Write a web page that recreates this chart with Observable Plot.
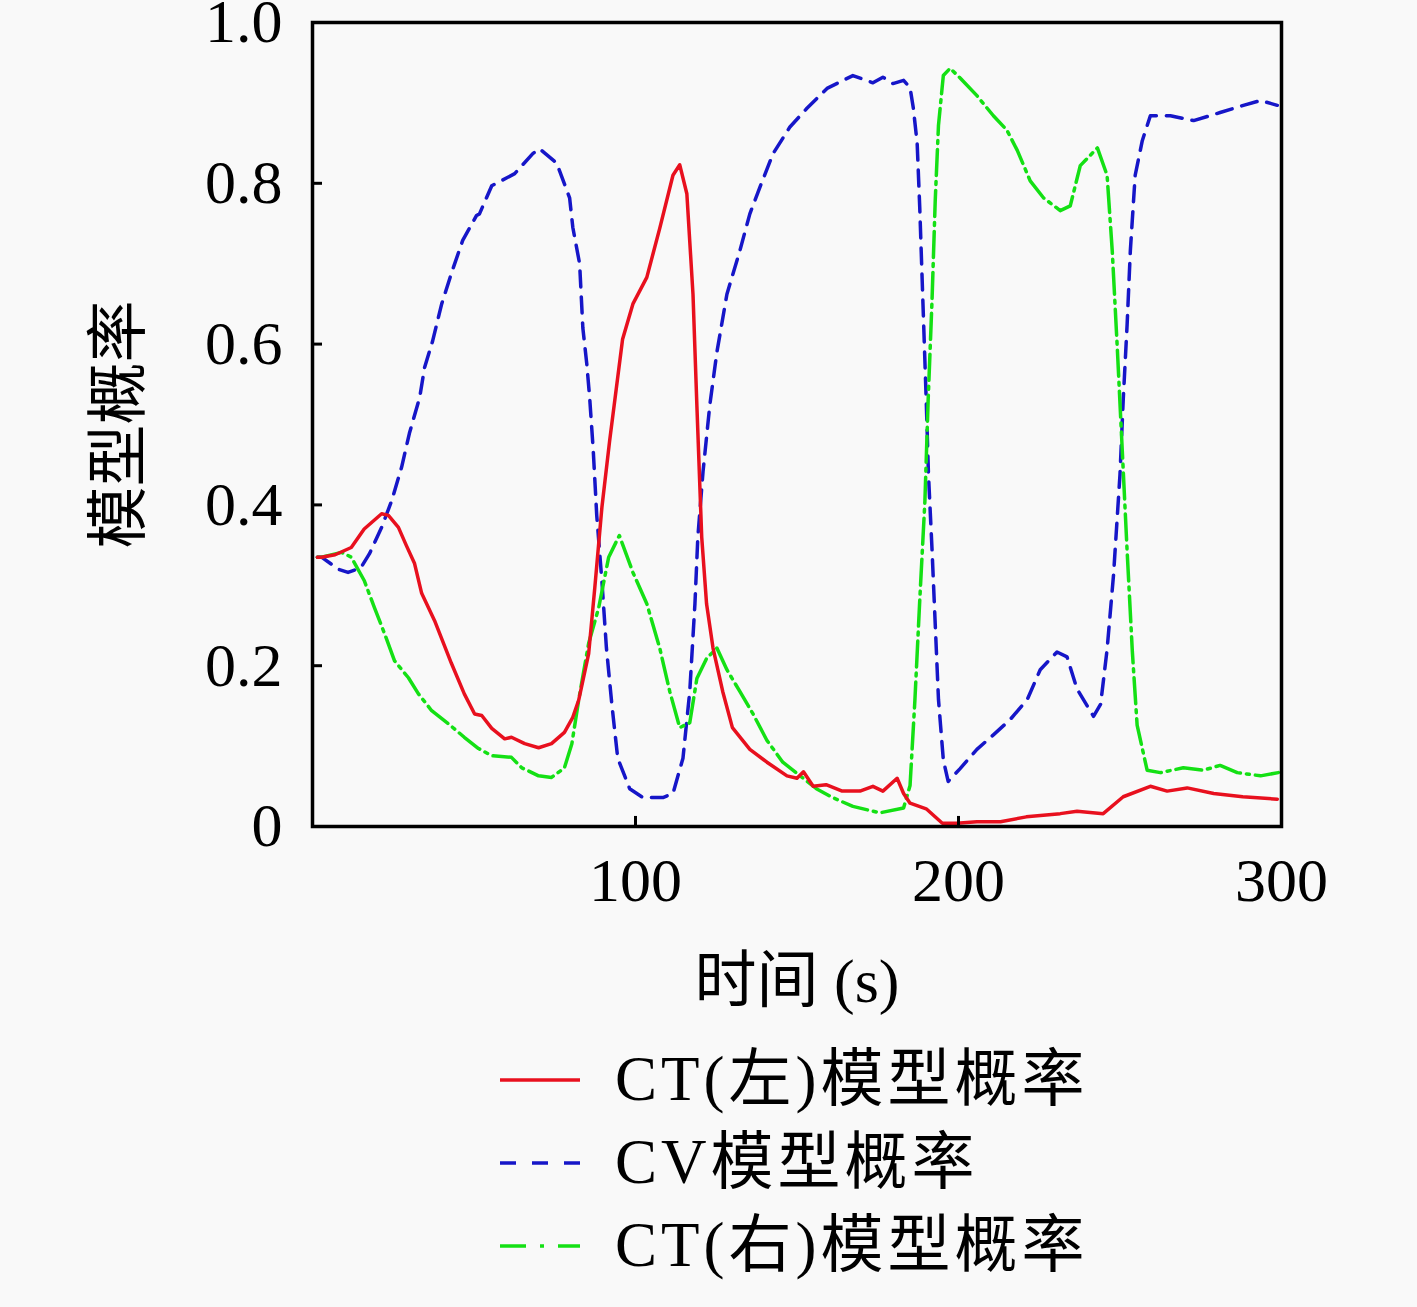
<!DOCTYPE html>
<html><head><meta charset="utf-8">
<script src="https://cdn.jsdelivr.net/npm/d3@7"></script>
<script src="https://cdn.jsdelivr.net/npm/@observablehq/plot@0.6"></script>
<style>
body{margin:0;background:#f9f9f9;}
#wrap{width:1417px;position:relative;font-family:"Liberation Serif","Noto Sans CJK SC",serif;color:#000;}
.legend{margin-top:8px;padding-left:500px;}
.row{display:flex;align-items:center;height:83px;font-size:63px;line-height:1;letter-spacing:4px;}
.row svg{margin-right:35px;flex:none;}
</style></head><body><div id="wrap"></div>
<script>
// ---- data ----
const seriesNames = ["CT(左)模型概率", "CV模型概率", "CT(右)模型概率"];
const xTicks = [100, 200, 300];
const yTicks = [0, 0.2, 0.4, 0.6, 0.8, 1.0];
const xLabel = "时间 (s)";
const yLabel = "模型概率";

const redT = [1.5, 2.8, 7, 12, 16, 21.4, 23.5, 26.6, 29, 31.6, 33.8, 37.8, 43, 47, 50.2, 52.4, 55.5, 59.5, 61.6, 65.7, 70, 74, 78, 80.5, 82.4, 85.5, 87.4, 89.6, 92, 96, 99.2, 103.5, 107.5, 111.6, 113.7, 115.9, 117.8, 119, 120.5, 122, 124, 127, 130, 135.4, 140.7, 146.9, 150, 152, 155, 159, 164, 169.5, 173.5, 176.6, 181, 183, 185, 190, 195, 199.5, 205.7, 213, 221, 231.5, 236.7, 244.8, 251, 259.4, 264.6, 270.8, 279, 288, 298.7];
const redV = [0.335, 0.335, 0.338, 0.347, 0.37, 0.389, 0.387, 0.372, 0.35, 0.327, 0.29, 0.256, 0.203, 0.165, 0.14, 0.138, 0.122, 0.109, 0.111, 0.103, 0.098, 0.103, 0.117, 0.135, 0.157, 0.215, 0.297, 0.397, 0.48, 0.606, 0.65, 0.683, 0.744, 0.81, 0.823, 0.787, 0.662, 0.524, 0.36, 0.277, 0.222, 0.168, 0.123, 0.096, 0.08, 0.063, 0.06, 0.068, 0.05, 0.052, 0.044, 0.044, 0.05, 0.044, 0.06, 0.041, 0.029, 0.022, 0.004, 0.004, 0.006, 0.006, 0.012, 0.016, 0.019, 0.016, 0.037, 0.05, 0.044, 0.048, 0.041, 0.037, 0.034];

const blueT = [1.5, 2.8, 8, 11, 15, 17.6, 21.4, 24.5, 27.6, 30, 33.2, 34.7, 37.2, 40, 43, 46.5, 50.8, 51.7, 55.5, 62.6, 68.2, 70.3, 75.6, 79.6, 80.6, 82.7, 83.7, 84.9, 85.8, 86.9, 88, 89.6, 91, 92.7, 94.5, 98.2, 102.3, 108.5, 111.6, 114.7, 116.8, 118.4, 119.3, 120.9, 123, 125.2, 128.3, 132.3, 135.4, 138.5, 142.6, 147.8, 153, 159.3, 167.3, 173.5, 176.6, 179.7, 183, 185, 186, 187.2, 188, 189, 190, 190.7, 191.8, 192.8, 193.8, 195.3, 196.8, 200.5, 205.7, 210.8, 216, 221.3, 225.3, 230.5, 233.6, 236.7, 241.8, 244, 246, 248, 250, 251, 252.2, 253.2, 254.7, 256.9, 259.4, 265.6, 272.8, 281, 288.2, 293.5, 298.7];
const blueV = [0.335, 0.335, 0.32, 0.316, 0.322, 0.339, 0.372, 0.405, 0.447, 0.489, 0.534, 0.571, 0.604, 0.65, 0.688, 0.729, 0.76, 0.762, 0.797, 0.812, 0.837, 0.843, 0.825, 0.782, 0.745, 0.7, 0.62, 0.576, 0.534, 0.469, 0.387, 0.305, 0.222, 0.151, 0.085, 0.047, 0.036, 0.036, 0.041, 0.085, 0.168, 0.277, 0.36, 0.441, 0.524, 0.59, 0.662, 0.716, 0.762, 0.795, 0.837, 0.87, 0.893, 0.918, 0.934, 0.925, 0.932, 0.924, 0.928, 0.919, 0.894, 0.85, 0.77, 0.65, 0.531, 0.438, 0.345, 0.251, 0.158, 0.083, 0.056, 0.072, 0.096, 0.114, 0.133, 0.158, 0.195, 0.217, 0.211, 0.171, 0.137, 0.152, 0.22, 0.313, 0.438, 0.531, 0.624, 0.716, 0.81, 0.853, 0.884, 0.884, 0.878, 0.888, 0.897, 0.903, 0.897];

const greenT = [1.5, 2.8, 9, 12, 16, 19.2, 22.3, 25.4, 29.7, 32.8, 36.9, 42, 47, 51.4, 55.5, 61.6, 64.8, 70, 74, 78, 80.3, 82.4, 85.5, 88.6, 91.7, 95, 99.2, 103.5, 107.5, 110.6, 113.7, 116.8, 119, 122, 125.2, 128.3, 132.3, 136.4, 140.7, 145.6, 151, 156, 161, 167.3, 175.7, 183, 185, 186.5, 188, 189.6, 190.6, 191.8, 192.8, 193.8, 195.3, 197.4, 200.5, 205.7, 210.8, 215, 218.2, 222.2, 226.3, 231.5, 234.6, 237.7, 243, 246, 247.6, 249.2, 250.7, 252.2, 253.8, 255.3, 258.4, 262.5, 269.6, 275.8, 281, 286.3, 293.5, 299];
const greenV = [0.335, 0.335, 0.341, 0.335, 0.306, 0.272, 0.24, 0.206, 0.185, 0.165, 0.144, 0.128, 0.111, 0.097, 0.088, 0.086, 0.073, 0.063, 0.061, 0.073, 0.103, 0.157, 0.228, 0.272, 0.335, 0.362, 0.316, 0.277, 0.222, 0.168, 0.123, 0.129, 0.184, 0.209, 0.222, 0.195, 0.168, 0.14, 0.107, 0.08, 0.063, 0.047, 0.036, 0.025, 0.017, 0.023, 0.051, 0.157, 0.281, 0.405, 0.53, 0.654, 0.779, 0.872, 0.934, 0.943, 0.931, 0.909, 0.884, 0.866, 0.841, 0.803, 0.782, 0.766, 0.772, 0.822, 0.844, 0.81, 0.716, 0.592, 0.468, 0.343, 0.219, 0.126, 0.07, 0.067, 0.073, 0.07, 0.076, 0.067, 0.063, 0.067];

// ---- styles ----
const styles = [
  {stroke: "#e8101e", dash: null, legendDash: null},
  {stroke: "#1616c8", dash: "16,10", legendDash: "16,16"},
  {stroke: "#14e014", dash: "26,6,3,6", legendDash: "26,14,4,14"}
];
const font = '"Liberation Serif","Noto Sans CJK SC",serif';
const lw = 3.5;

const toRows = (T, V, s) => T.map((t, i) => ({t, v: V[i], s}));
const red = toRows(redT, redV, seriesNames[0]);
const blue = toRows(blueT, blueV, seriesNames[1]);
const green = toRows(greenT, greenV, seriesNames[2]);

const fmtY = d => d === 0 ? "0" : d.toFixed(1);

const chart = Plot.plot({
  width: 1417, height: 1030,
  marginLeft: 312, marginRight: 136, marginTop: 22, marginBottom: 204,
  style: {background: "transparent", fontFamily: font, overflow: "visible", color: "#000"},
  x: {domain: [0, 300]},
  y: {domain: [0, 1]},
  marks: [
    Plot.line(blue, {x: "t", y: "v", stroke: styles[1].stroke, strokeWidth: lw, strokeDasharray: styles[1].dash}),
    Plot.line(green, {x: "t", y: "v", stroke: styles[2].stroke, strokeWidth: lw, strokeDasharray: styles[2].dash}),
    Plot.line(red, {x: "t", y: "v", stroke: styles[0].stroke, strokeWidth: lw}),
    Plot.ruleX(xTicks.filter(d => d < 300), {x: d => d, y1: 0, y2: 0.0125, stroke: "#000", strokeWidth: 3}),
    Plot.ruleY(yTicks.filter(d => d > 0 && d < 1), {y: d => d, x1: 0, x2: 3.1, stroke: "#000", strokeWidth: 3}),
    Plot.frame({stroke: "#000", strokeWidth: 3.5}),
    Plot.axisX(xTicks, {tickSize: 0, tickPadding: 30, fontSize: 62, label: null, tickFormat: d => String(d)}),
    Plot.axisY(yTicks, {tickSize: 0, tickPadding: 30, fontSize: 62, label: null, tickFormat: fmtY}),
    Plot.text([xLabel], {frameAnchor: "bottom", dy: 156, lineAnchor: "middle", textAnchor: "middle", fontSize: 62, text: d => d}),
    Plot.text([yLabel], {frameAnchor: "left", dx: -192, rotate: -90, lineAnchor: "middle", textAnchor: "middle", fontSize: 62, text: d => d})
  ]
});

const wrap = document.getElementById("wrap");
wrap.appendChild(chart);

const legend = document.createElement("div");
legend.className = "legend";
seriesNames.forEach((name, i) => {
  const row = document.createElement("div");
  row.className = "row";
  const st = styles[i];
  row.innerHTML = `<svg width="80" height="10"><line x1="0" y1="5" x2="80" y2="5" stroke="${st.stroke}" stroke-width="3.5" ${st.legendDash ? `stroke-dasharray="${st.legendDash}"` : ""}/></svg><span>${name}</span>`;
  legend.appendChild(row);
});
wrap.appendChild(legend);
</script>
</body></html>
